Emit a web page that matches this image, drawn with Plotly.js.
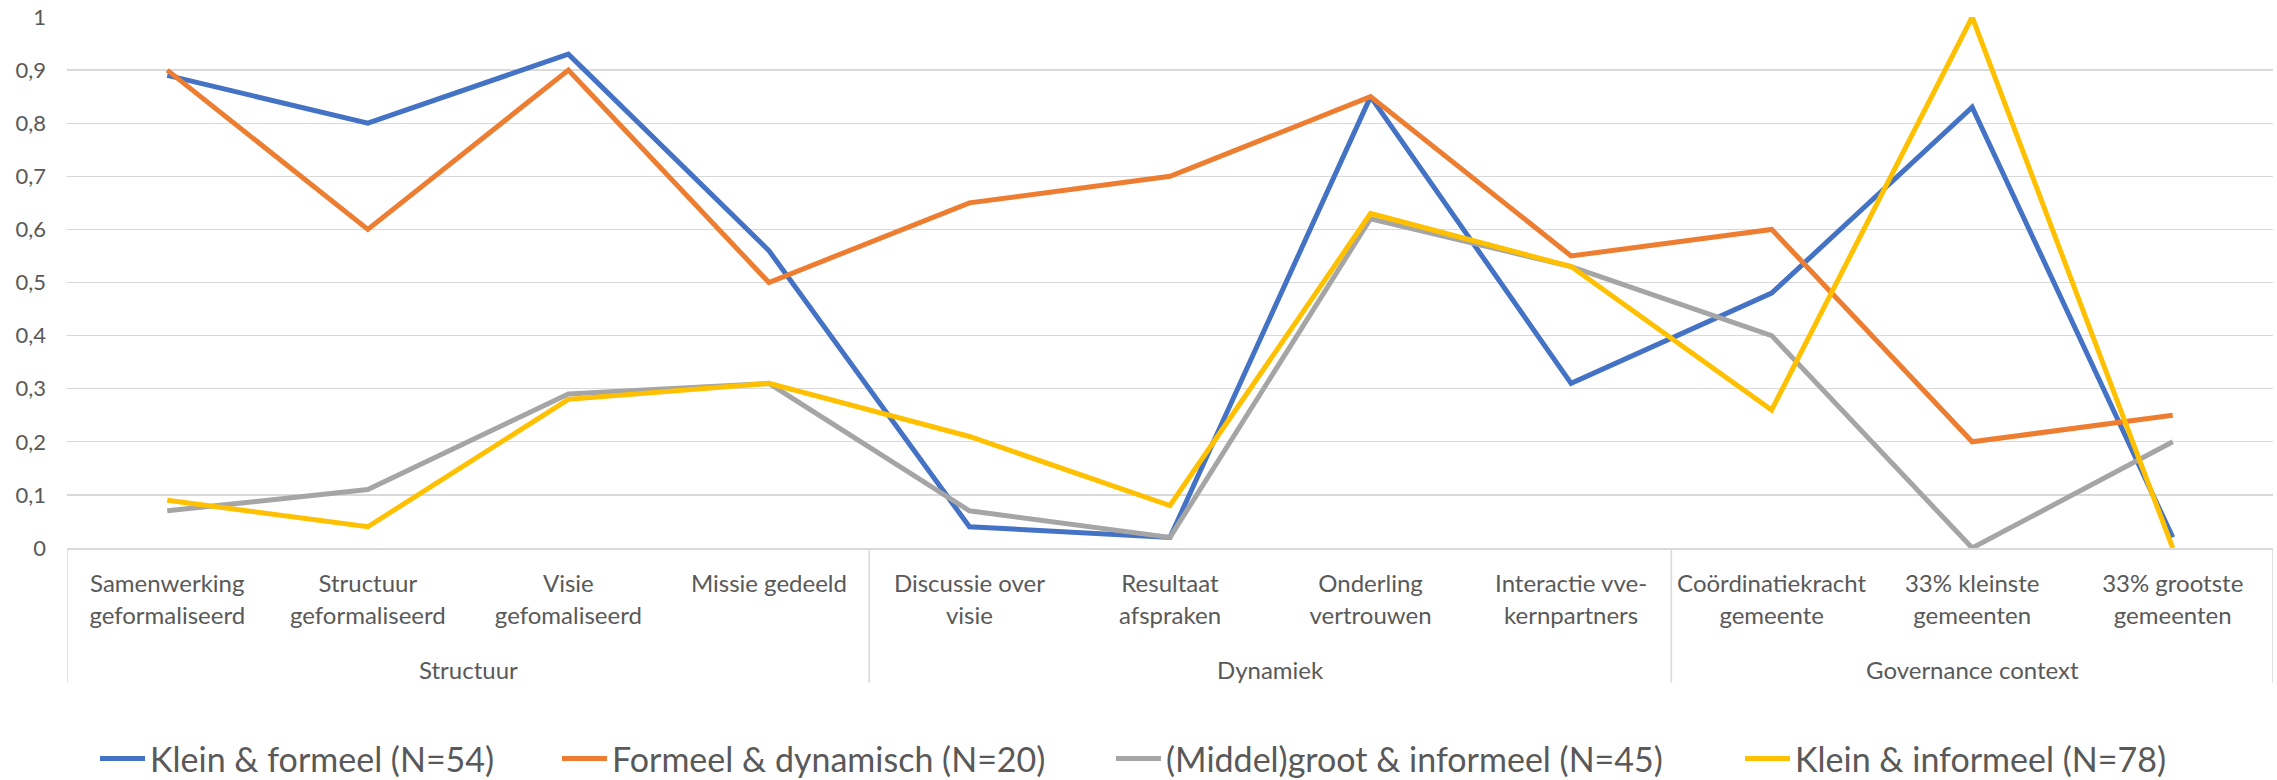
<!DOCTYPE html>
<html>
<head>
<meta charset="utf-8">
<script src="https://cdn.plot.ly/plotly-3.0.1.min.js"></script>
<style>html,body{margin:0;padding:0;background:#fff;}#chart{width:2277px;height:780px;}</style>
</head>
<body>
<div id="chart"></div>
<script>
const categories = ["Samenwerking<br>geformaliseerd","Structuur<br>geformaliseerd","Visie<br>gefomaliseerd","Missie gedeeld","Discussie over<br>visie","Resultaat<br>afspraken","Onderling<br>vertrouwen","Interactie vve-<br>kernpartners","Coördinatiekracht<br>gemeente","33% kleinste<br>gemeenten","33% grootste<br>gemeenten"];
const groupNames = ["Structuur","Dynamiek","Governance context"];
const groupSizes = [4,4,3];
const seriesNames = ["Klein & formeel (N=54)","Formeel & dynamisch (N=20)","(Middel)groot & informeel (N=45)","Klein & informeel (N=78)"];
const kleinFormeel = [0.89,0.80,0.93,0.56,0.04,0.02,0.85,0.31,0.48,0.83,0.02];
const formeelDynamisch = [0.90,0.60,0.90,0.50,0.65,0.70,0.85,0.55,0.60,0.20,0.25];
const middelgrootInformeel = [0.07,0.11,0.29,0.31,0.07,0.02,0.62,0.53,0.40,0.00,0.20];
const kleinInformeel = [0.09,0.04,0.28,0.31,0.21,0.08,0.63,0.53,0.26,1.00,0.00];
const colors = ["#4472C4","#ED7D31","#A5A5A5","#FFC000"];
const values = [kleinFormeel, formeelDynamisch, middelgrootInformeel, kleinInformeel];
const legendIds = ['legend','legend2','legend3','legend4'];
const legendX = [95, 557, 1111, 1740];

const FONT = "Lato, 'Open Sans', sans-serif";
const GRID = '#D9D9D9';
const traces = values.map((v,i)=>({
  type:'scatter', mode:'lines', name: seriesNames[i],
  x:categories, y:v,
  line:{color:colors[i], width:5},
  cliponaxis:false,
  legend: legendIds[i]
}));

// group dividers & labels, positioned on the category axis
const shapes = [];
const annotations = [];
let start = -0.5;
shapes.push({type:'line', xref:'x', yref:'paper', x0:start, x1:start, y0:0, y1:-0.254, line:{color:GRID, width:1.5}});
groupSizes.forEach((n,g)=>{
  const end = start + n;
  shapes.push({type:'line', xref:'x', yref:'paper', x0:end, x1:end, y0:0, y1:-0.254, line:{color:GRID, width:1.5}});
  annotations.push({xref:'x', yref:'paper', x:(start+end)/2, y:-0.228, yanchor:'middle', xanchor:'center',
    text:groupNames[g], showarrow:false, font:{family:FONT, size:24, color:'#595959'}});
  start = end;
});

const layout = {
  width:2277, height:780,
  margin:{l:67, r:4, t:17, b:232},
  paper_bgcolor:'#fff', plot_bgcolor:'#fff',
  separators:', ',
  font:{family:FONT, color:'#595959', size:24},
  showlegend:true,
  shapes, annotations,
  yaxis:{range:[0,1], dtick:0.1, tick0:0, showgrid:true, gridcolor:GRID, gridwidth:1.3,
         zeroline:false, showline:false, ticks:'', ticklabelstandoff:20,
         tickfont:{family:FONT, size:22, color:'#595959'}},
  xaxis:{type:'category', range:[-0.5,10.5], showgrid:false, showline:true, linecolor:GRID, linewidth:1.5,
         ticks:'', ticklabelstandoff:14, tickangle:0,
         tickfont:{family:FONT, size:24, color:'#595959'}}
};
legendIds.forEach((id,i)=>{
  layout[id] = {orientation:'h', xref:'container', x:legendX[i]/2277, xanchor:'left',
                yref:'container', y:0.027, yanchor:'middle', itemwidth:45,
                bgcolor:'rgba(0,0,0,0)', font:{family:FONT, size:34, color:'#595959'}};
});
Plotly.newPlot('chart', traces, layout, {displayModeBar:false, staticPlot:true});
</script>
</body>
</html>
